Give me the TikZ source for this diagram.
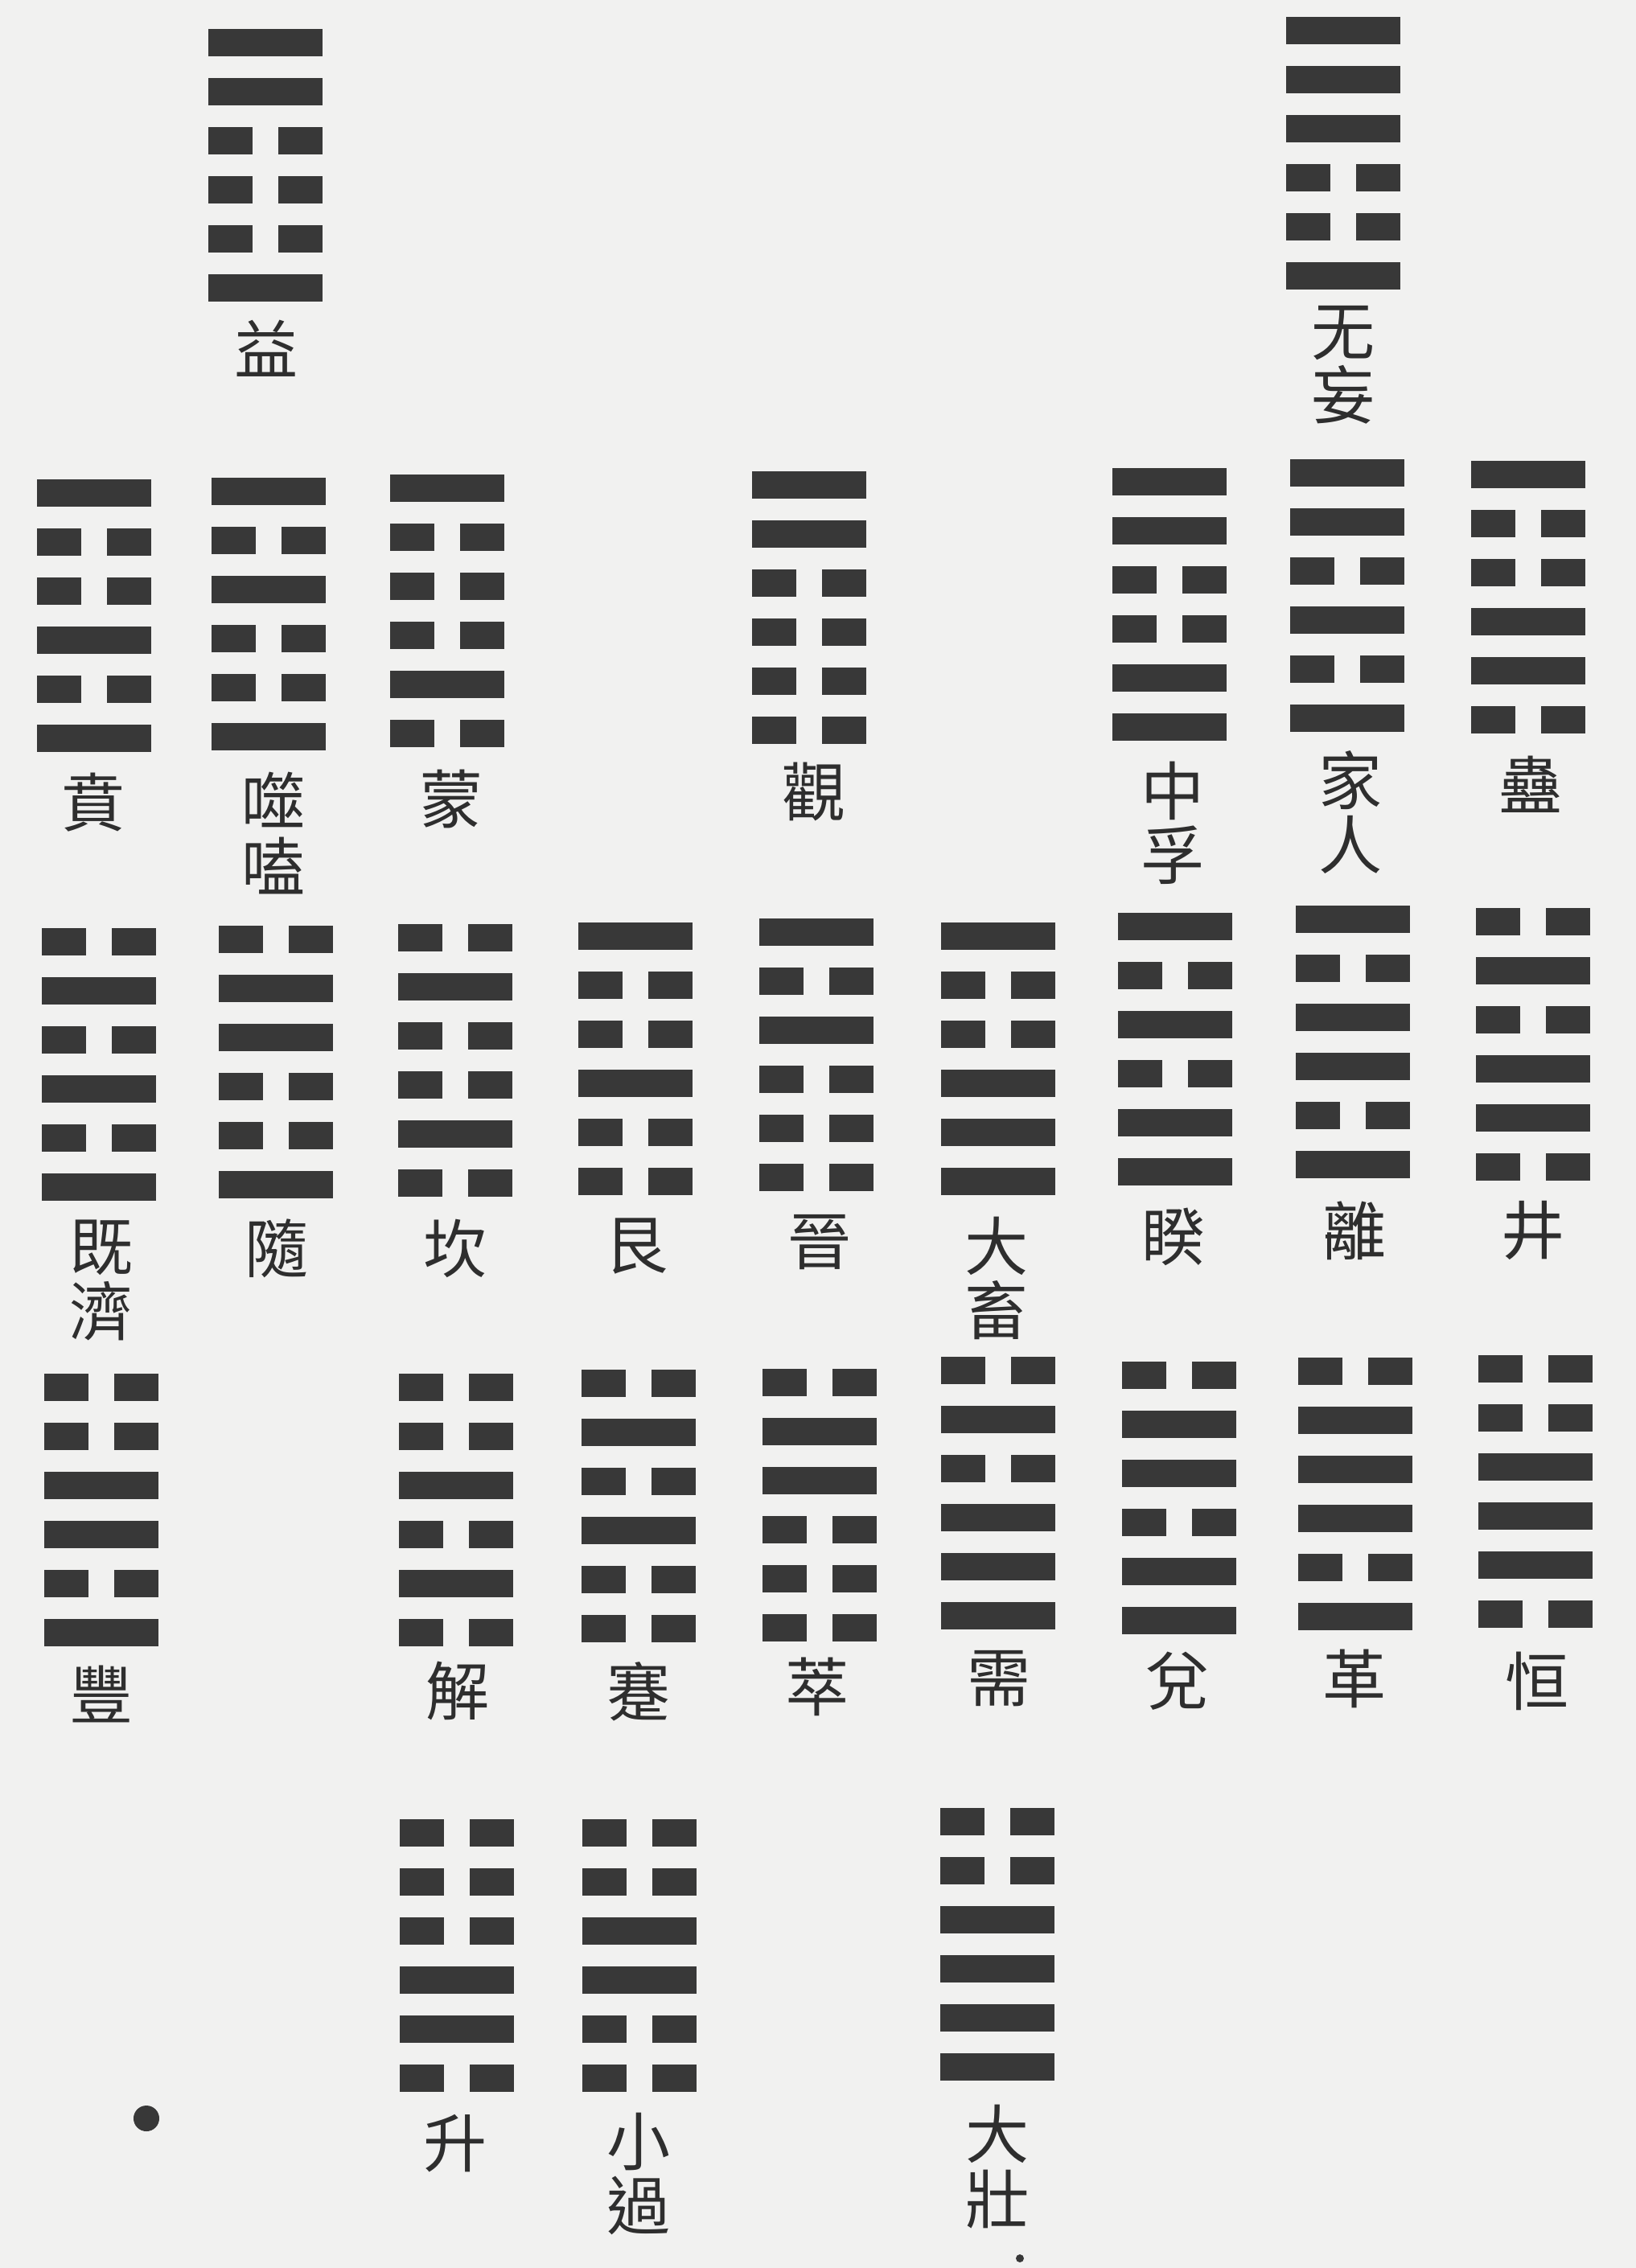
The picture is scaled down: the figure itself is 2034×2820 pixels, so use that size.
\documentclass[tikz,border=0pt]{standalone}
\usepackage{fontspec}
\usepackage{xcolor}
\usepackage{tikz}
\usetikzlibrary{positioning}
\newfontfamily\cjk{Noto Sans CJK TC}
\definecolor{paper}{HTML}{F1F1F0}
\definecolor{ink}{HTML}{383838}
\definecolor{inktext}{HTML}{2E2E2E}

\newcommand{\gua}[3]{%
  \foreach \yao [count=\k from 0] in {#3}{%
    \pgfmathsetmacro{\ly}{#2+\k*61}%
    \ifnum\yao=1
      \fill[ink] (#1-71,\ly) rectangle (#1+71,\ly+34);
    \else
      \fill[ink] (#1-71,\ly) rectangle (#1-16,\ly+34);
      \fill[ink] (#1+16,\ly) rectangle (#1+71,\ly+34);
    \fi
  }%
}

\tikzset{
  gualabel/.style={text=inktext, inner sep=0pt, align=center,
    font=\cjk\fontsize{22.5}{22.8}\selectfont}
}

\begin{document}
\begin{tikzpicture}[x=0.01cm, y=-0.01cm]
\fill[paper] (0,0) rectangle (2034,2820);
\useasboundingbox (0,0) rectangle (2034,2820);

\gua{330}{36}{1,1,0,0,0,1}
\node[gualabel] (yi) at (331,433) {益};
\gua{1670}{21}{1,1,1,0,0,1}
\node[gualabel] (wuwang) at (1670,454) {无\\妄};

\gua{117}{596}{1,0,0,1,0,1}
\node[gualabel] (bi) at (116,998) {賁};
\gua{334}{594}{1,0,1,0,0,1}
\node[gualabel] (shihe) at (340,1036) {噬\\嗑};
\gua{556}{590}{1,0,0,0,1,0}
\node[gualabel] (meng) at (561,993) {蒙};
\gua{1006}{586}{1,1,0,0,0,0}
\node[gualabel] (guan) at (1012,984) {觀};
\gua{1454}{582}{1,1,0,0,1,1}
\node[gualabel] (zhongfu) at (1458,1023) {中\\孚};
\gua{1675}{571}{1,1,0,1,0,1}
\node[gualabel] (jiaren) at (1679,1010) {家\\人};
\gua{1900}{573}{1,0,0,1,1,0}
\node[gualabel] (gu) at (1903,975) {蠱};

\gua{123}{1154}{0,1,0,1,0,1}
\node[gualabel] (jiji) at (126,1592) {既\\濟};
\gua{343}{1151}{0,1,1,0,0,1}
\node[gualabel] (sui) at (344,1552) {隨};
\gua{566}{1149}{0,1,0,0,1,0}
\node[gualabel] (kan) at (566,1552) {坎};
\gua{790}{1147}{1,0,0,1,0,0}
\node[gualabel] (gen) at (791,1550) {艮};
\gua{1015}{1142}{1,0,1,0,0,0}
\node[gualabel] (jin) at (1019,1545) {晉};
\gua{1241}{1147}{1,0,0,1,1,1}
\node[gualabel] (dachu) at (1239,1589) {大\\畜};
\gua{1461}{1135}{1,0,1,0,1,1}
\node[gualabel] (kui) at (1459,1538) {睽};
\gua{1682}{1126}{1,0,1,1,0,1}
\node[gualabel] (li) at (1684,1530) {離};
\gua{1906}{1129}{0,1,0,1,1,0}
\node[gualabel] (jing) at (1906,1530) {井};

\gua{126}{1708}{0,0,1,1,0,1}
\node[gualabel] (feng) at (126,2106) {豐};
\gua{567}{1708}{0,0,1,0,1,0}
\node[gualabel] (xie) at (569,2102) {解};
\gua{794}{1703}{0,1,0,1,0,0}
\node[gualabel] (jian) at (794,2103) {蹇};
\gua{1019}{1702}{0,1,1,0,0,0}
\node[gualabel] (cui) at (1016,2097) {萃};
\gua{1241}{1687}{0,1,0,1,1,1}
\node[gualabel] (xu) at (1242,2087) {需};
\gua{1466}{1693}{0,1,1,0,1,1}
\node[gualabel] (dui) at (1464,2090) {兌};
\gua{1685}{1688}{0,1,1,1,0,1}
\node[gualabel] (ge) at (1684,2087) {革};
\gua{1909}{1685}{0,0,1,1,1,0}
\node[gualabel] (heng) at (1911,2090) {恒};

\gua{568}{2262}{0,0,0,1,1,0}
\node[gualabel] (sheng) at (566,2665) {升};
\gua{795}{2262}{0,0,1,1,0,0}
\node[gualabel] (xiaoguo) at (794,2703) {小\\過};
\gua{1240}{2248}{0,0,1,1,1,1}
\node[gualabel] (dazhuang) at (1240,2694) {大\\壯};

\fill[ink] (182,2634) circle (0.16cm);
\fill[ink] (1268,2808) circle (0.05cm);
\end{tikzpicture}
\end{document}
